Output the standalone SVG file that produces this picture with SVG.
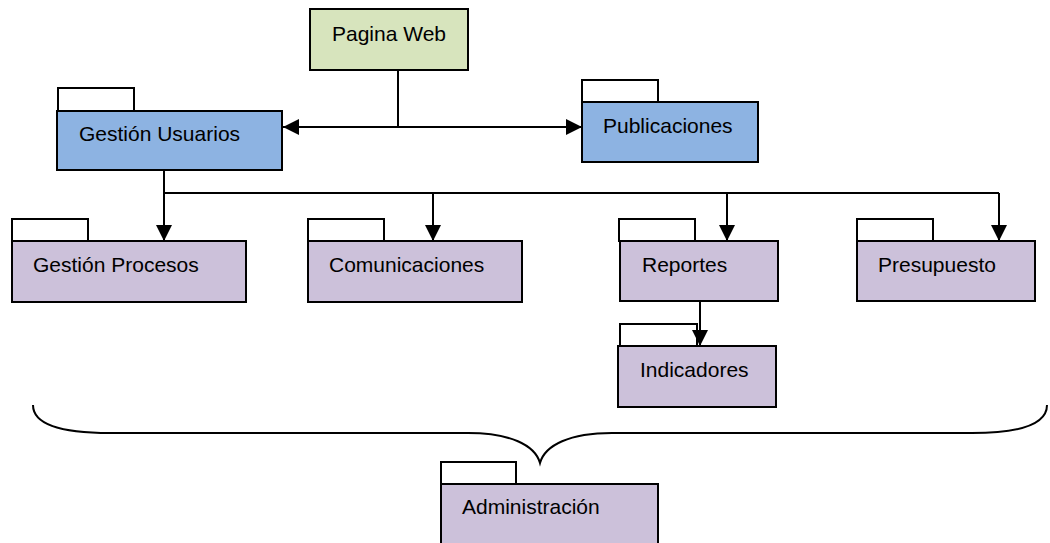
<svg xmlns="http://www.w3.org/2000/svg" width="1050" height="543" viewBox="0 0 1050 543">
<style>
.b{stroke:#000;stroke-width:2}
.tab{fill:#fff;stroke:#000;stroke-width:2}
.green{fill:#d7e4bd}
.blue{fill:#8db3e2}
.purple{fill:#ccc1da}
text{font-family:"Liberation Sans",Arial,sans-serif;font-size:21px;fill:#000}
.ln{stroke:#000;stroke-width:2;fill:none}
</style>
<defs>
<marker id="ah" markerWidth="16" markerHeight="16" viewBox="0 0 16 16" refX="16" refY="8" orient="auto" markerUnits="userSpaceOnUse">
<path d="M0,0 L16,8 L0,16 Z" fill="#000"/>
</marker>
</defs>
<g id="pagina-web">
<rect class="b green" x="310" y="9" width="158" height="61"/>
<text x="332" y="41">Pagina Web</text>
</g>
<g id="gestion-usuarios">
<rect class="tab" x="58" y="88" width="76" height="23"/>
<rect class="b blue" x="57" y="111" width="225" height="59"/>
<text x="79" y="141">Gestión Usuarios</text>
</g>
<g id="publicaciones">
<rect class="tab" x="582" y="80" width="76" height="22"/>
<rect class="b blue" x="582" y="102" width="176" height="60"/>
<text x="603" y="133">Publicaciones</text>
</g>
<g id="gestion-procesos">
<rect class="tab" x="12" y="219" width="76" height="22"/>
<rect class="b purple" x="12" y="241" width="234" height="61"/>
<text x="33" y="272">Gestión Procesos</text>
</g>
<g id="comunicaciones">
<rect class="tab" x="308" y="219" width="76" height="22"/>
<rect class="b purple" x="308" y="241" width="214" height="61"/>
<text x="329" y="272">Comunicaciones</text>
</g>
<g id="reportes">
<rect class="tab" x="619" y="219" width="76" height="22"/>
<rect class="b purple" x="620" y="241" width="158" height="60"/>
<text x="642" y="272">Reportes</text>
</g>
<g id="indicadores">
<rect class="tab" x="620" y="324" width="77" height="22"/>
<rect class="b purple" x="618" y="346" width="158" height="61"/>
<text x="640" y="377">Indicadores</text>
</g>
<g id="presupuesto">
<rect class="tab" x="857" y="219" width="76" height="22"/>
<rect class="b purple" x="857" y="241" width="178" height="60"/>
<text x="878" y="272">Presupuesto</text>
</g>
<g id="administracion">
<rect class="tab" x="441" y="462" width="75" height="22"/>
<rect class="b purple" x="441" y="484" width="217" height="62"/>
<text x="462" y="514">Administración</text>
</g>
<g id="connectors">
<line class="ln" x1="398" y1="70" x2="398" y2="127"/>
<line class="ln" x1="398" y1="127" x2="283" y2="127" marker-end="url(#ah)"/>
<line class="ln" x1="398" y1="127" x2="582" y2="127" marker-end="url(#ah)"/>
<line class="ln" x1="164" y1="170" x2="164" y2="193"/>
<line class="ln" x1="164" y1="193" x2="999" y2="193"/>
<line class="ln" x1="164" y1="193" x2="164" y2="241" marker-end="url(#ah)"/>
<line class="ln" x1="433" y1="193" x2="433" y2="241" marker-end="url(#ah)"/>
<line class="ln" x1="727" y1="193" x2="727" y2="241" marker-end="url(#ah)"/>
<line class="ln" x1="999" y1="193" x2="999" y2="241" marker-end="url(#ah)"/>
<line class="ln" x1="700" y1="301" x2="700" y2="346" marker-end="url(#ah)"/>
<path class="ln" d="M33,405 C33,424 60,433 110,433 L468,433 C510,433 535,445 540,463 C545,445 570,433 612,433 L972,433 C1020,433 1047,424 1047,405"/>
</g>
</svg>
